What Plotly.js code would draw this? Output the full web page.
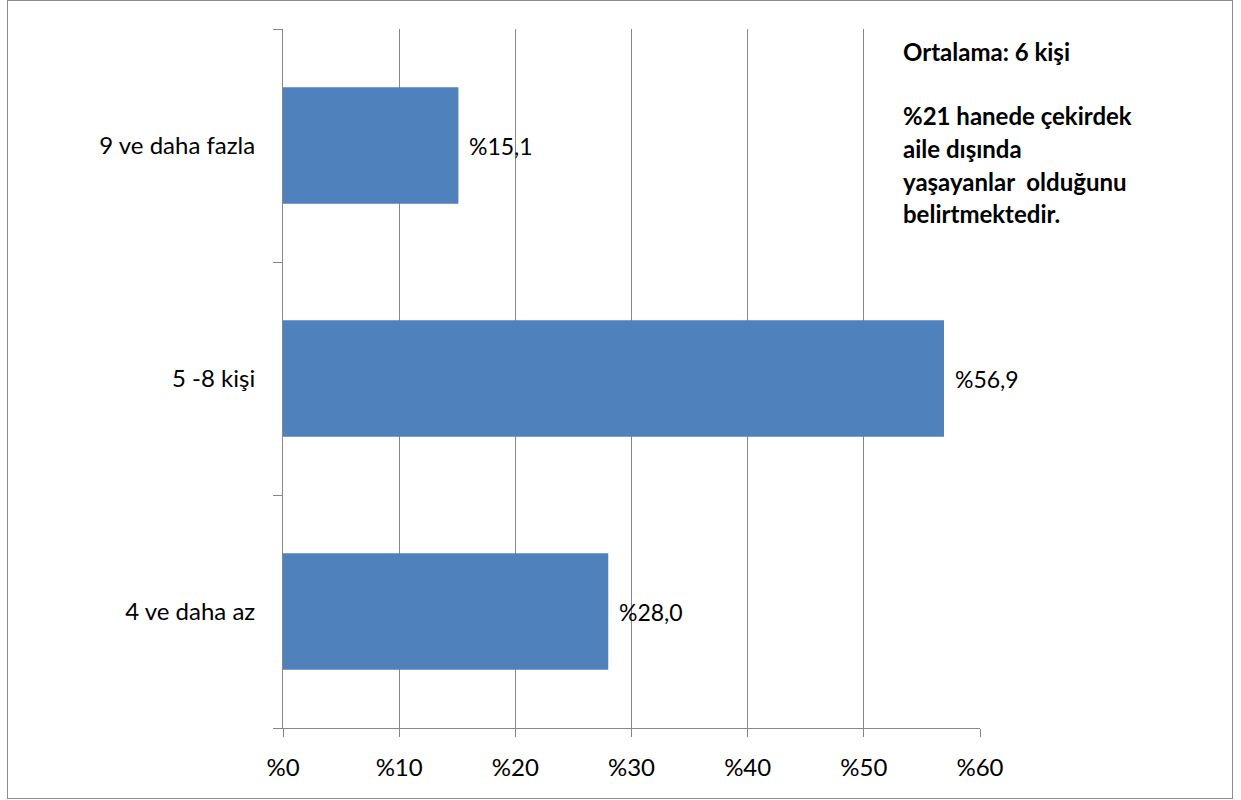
<!DOCTYPE html>
<html>
<head>
<meta charset="utf-8">
<script src="https://cdn.plot.ly/plotly-3.0.1.min.js"></script>
<style>
  body { margin: 0; background: #fff; }
  #wrap { position: relative; width: 1241px; height: 800px; }
  #chart { width: 1241px; height: 800px; }
  #frame { position: absolute; left: 7px; top: 0px; width: 1224px; height: 797px;
           border: 1px solid #8c8c8c; pointer-events: none; }
</style>
</head>
<body>
<div id="wrap">
  <div id="chart"></div>
  <div id="frame"></div>
</div>
<script>
const categories = ["4 ve daha az", "5 -8 kişi", "9 ve daha fazla"];
const values = [28.0, 56.9, 15.1];
const valueLabels = ["%28,0", "%56,9", "%15,1"];
const tickValues = [0, 10, 20, 30, 40, 50, 60];
const tickLabels = ["%0", "%10", "%20", "%30", "%40", "%50", "%60"];
const noteLines = ["Ortalama: 6 kişi", "", "%21 hanede çekirdek", "aile dışında", "yaşayanlar  olduğunu", "belirtmektedir."];

const FONT = "Lato, 'Open Sans', sans-serif";
const GRID = "#878787";

const trace = {
  type: "bar",
  orientation: "h",
  y: categories,
  x: values,
  marker: { color: "#4f81bd", line: { width: 0 } },
  hoverinfo: "skip"
};

const annotations = categories.map((c, i) => ({
  x: values[i], y: c, xref: "x", yref: "y",
  text: valueLabels[i], showarrow: false,
  xanchor: "left", yanchor: "middle", xshift: 9,
  font: { family: FONT, size: 23, color: "#000" }
}));

const lineHeightPaper = 32.5 / 699;
noteLines.forEach((t, i) => {
  if (!t) return;
  annotations.push({
    xref: "paper", yref: "paper",
    x: (901 - 283) / 697, y: (728 - 51) / 699 - i * lineHeightPaper,
    text: "<b>" + t + "</b>", showarrow: false,
    xanchor: "left", yanchor: "middle", align: "left",
    font: { family: FONT, size: 24, color: "#000" }
  });
});

const layout = {
  width: 1241, height: 800,
  margin: { l: 283, r: 261, t: 29, b: 72 },
  paper_bgcolor: "#fff", plot_bgcolor: "#fff",
  showlegend: false,
  bargap: 0.5,
  font: { family: FONT, size: 24, color: "#000" },
  xaxis: {
    range: [0, 60], tickvals: tickValues, ticktext: tickLabels,
    showgrid: true, gridcolor: GRID, gridwidth: 1,
    showline: true, linecolor: GRID, linewidth: 1,
    ticks: "outside", ticklen: 8, tickcolor: GRID,
    ticklabelstandoff: 10,
    zeroline: false, fixedrange: true,
    tickfont: { family: FONT, size: 24, color: "#000" }
  },
  yaxis: {
    type: "category", categoryorder: "array", categoryarray: categories,
    tickson: "boundaries",
    showgrid: false, showline: true, linecolor: GRID, linewidth: 1,
    ticks: "outside", ticklen: 9, tickcolor: GRID,
    ticklabelstandoff: 22,
    zeroline: false, fixedrange: true,
    tickfont: { family: FONT, size: 24, color: "#000" }
  },
  shapes: [{
    type: "rect", xref: "paper", yref: "paper", layer: "above",
    x0: (885 - 283) / 697, x1: (1225 - 283) / 697,
    y0: (728 - 258) / 699, y1: (728 - 12) / 699,
    fillcolor: "#fff", line: { width: 0 }
  }],
  annotations: annotations
};

Plotly.newPlot("chart", [trace], layout, { staticPlot: true, displayModeBar: false });
</script>
</body>
</html>
